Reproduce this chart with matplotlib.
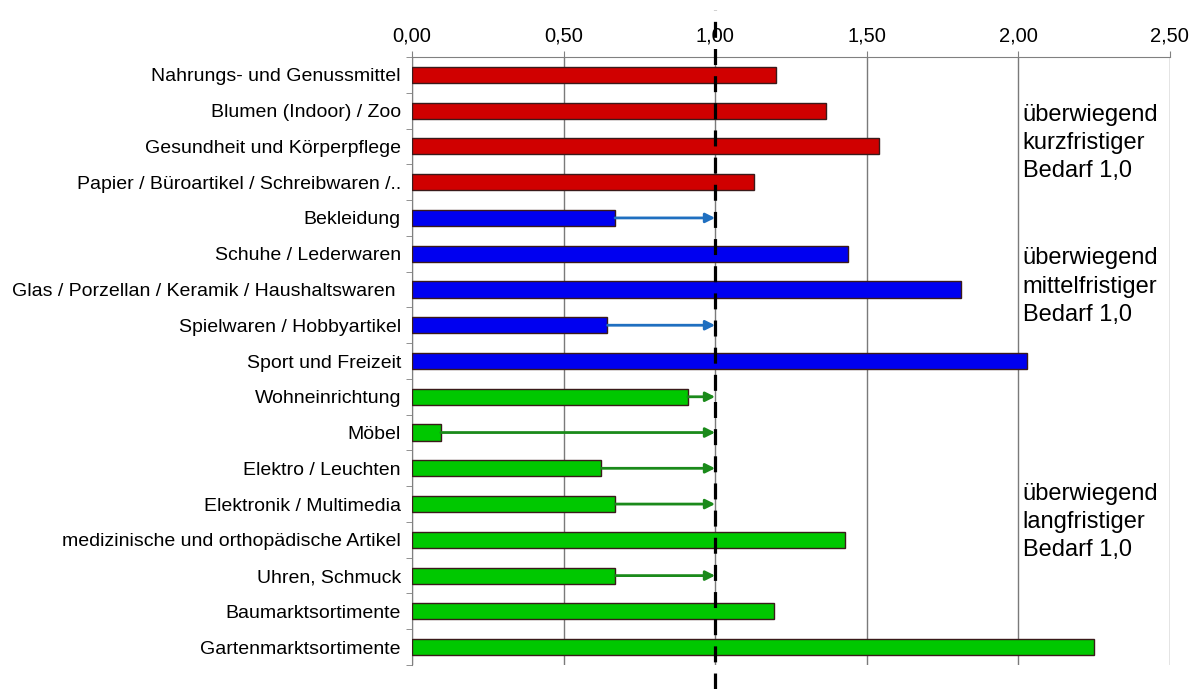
import matplotlib
matplotlib.use("Agg")
import matplotlib.pyplot as plt
import numpy as np

categories = [
    "Nahrungs- und Genussmittel",
    "Blumen (Indoor) / Zoo",
    "Gesundheit und Körperpflege",
    "Papier / Büroartikel / Schreibwaren /..",
    "Bekleidung",
    "Schuhe / Lederwaren",
    "Glas / Porzellan / Keramik / Haushaltswaren ",
    "Spielwaren / Hobbyartikel",
    "Sport und Freizeit",
    "Wohneinrichtung",
    "Möbel",
    "Elektro / Leuchten",
    "Elektronik / Multimedia",
    "medizinische und orthopädische Artikel",
    "Uhren, Schmuck",
    "Baumarktsortimente",
    "Gartenmarktsortimente",
]
values = [1.20, 1.365, 1.54, 1.13, 0.67, 1.44, 1.81, 0.645, 2.03,
          0.91, 0.095, 0.625, 0.67, 1.43, 0.67, 1.195, 2.25]
groups = ["kurz"] * 4 + ["mittel"] * 5 + ["lang"] * 8
target = 1.0
xticks = [0.0, 0.5, 1.0, 1.5, 2.0, 2.5]
xticklabels = ["0,00", "0,50", "1,00", "1,50", "2,00", "2,50"]
group_texts = {
    "kurz": "überwiegend\nkurzfristiger\nBedarf 1,0",
    "mittel": "überwiegend\nmittelfristiger\nBedarf 1,0",
    "lang": "überwiegend\nlangfristiger\nBedarf 1,0",
}
bar_colors = {"kurz": "#d00000", "mittel": "#0000f0", "lang": "#00c800"}
arrow_colors = {"kurz": "#1f6fc0", "mittel": "#1f6fc0", "lang": "#1a8a1a"}

plt.rcParams["font.family"] = ["Liberation Sans", "DejaVu Sans"]

fig = plt.figure(figsize=(11.96, 6.89), dpi=100)
ax = fig.add_axes([0.3445, 0.0348, 0.6335, 0.8825])

n = len(categories)
y = np.arange(n)
ax.set_ylim(n - 0.5, -0.5)
ax.set_xlim(0, 2.5)

for xi in xticks:
    ax.axvline(xi, color="#7a7a7a", lw=1.0, zorder=1)

ax.barh(y, values, height=0.45, color=[bar_colors[g] for g in groups],
        edgecolor="#3a1a1a", linewidth=1.0, zorder=3)

for yi, v, g in zip(y, values, groups):
    if v < target:
        ax.annotate("", xy=(target, yi), xytext=(v, yi),
                    arrowprops=dict(arrowstyle="-|>", color=arrow_colors[g],
                                    lw=2.0, mutation_scale=14,
                                    shrinkA=0, shrinkB=0),
                    zorder=4)

ax.axvline(target, ymin=-0.04, ymax=1.077, color="black", lw=2.3,
           linestyle=(0, (5.0, 3.5)), clip_on=False, zorder=5)

ax.xaxis.tick_top()
ax.set_xticks(xticks)
ax.set_xticklabels(xticklabels, fontsize=14.5)
ax.tick_params(axis="x", which="major", length=4, color="#808080", pad=4)

ax.set_yticks(y)
ax.set_yticklabels(categories, fontsize=14)
ax.tick_params(axis="y", which="major", length=0, pad=8)
ax.set_yticks(np.arange(-0.5, n, 1.0), minor=True)
ax.tick_params(axis="y", which="minor", length=4, color="#808080")

for s in ["right", "bottom"]:
    ax.spines[s].set_visible(False)
ax.spines["top"].set_color("#808080")
ax.spines["left"].set_color("#808080")

text_x = 2.015
group_pos = {"kurz": 1.9, "mittel": 5.92, "lang": 12.5}
for g, txt in group_texts.items():
    ax.text(text_x, group_pos[g], txt, fontsize=17, va="center", ha="left",
            linespacing=1.36, zorder=6)

fig.savefig("out.png", dpi=100)
